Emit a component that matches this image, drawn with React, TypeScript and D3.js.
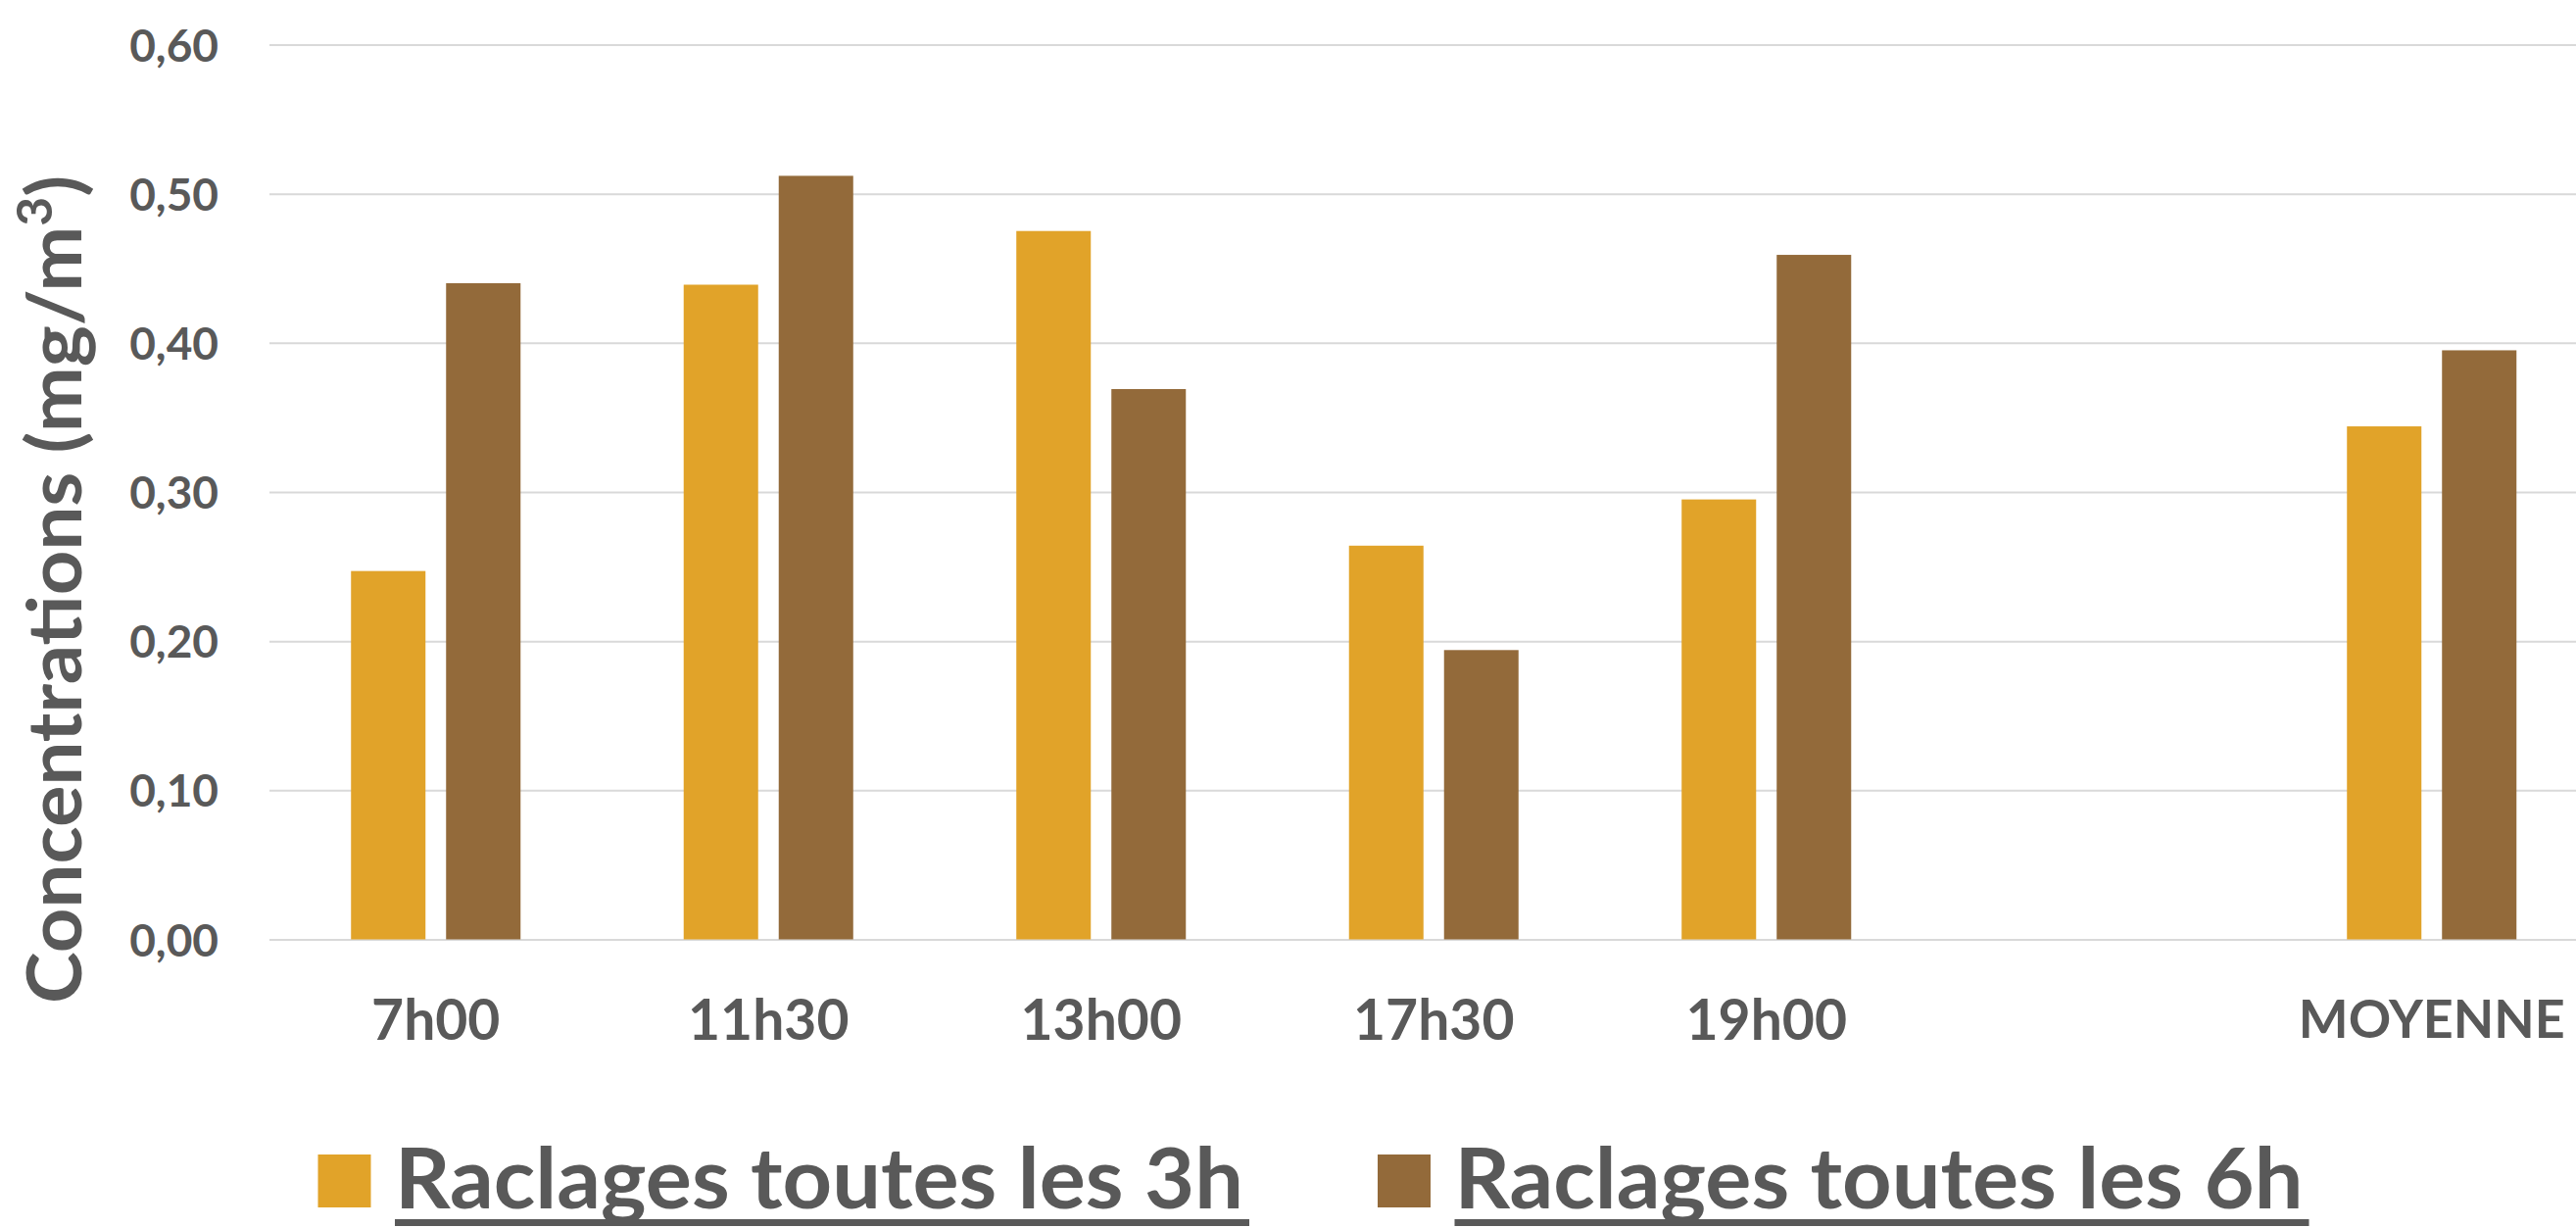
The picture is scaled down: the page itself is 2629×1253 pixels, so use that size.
import React, { useEffect, useRef } from "react";
import { select, scaleBand, scaleLinear, axisLeft, axisBottom } from "d3";

// chart data
const categories = ["7h00", "11h30", "13h00", "17h30", "19h00", "", "MOYENNE"];
const seriesNames = ["Raclages toutes les 3h", "Raclages toutes les 6h"];
const raclages3h = [0.247, 0.439, 0.475, 0.264, 0.295, null, 0.344];
const raclages6h = [0.44, 0.512, 0.369, 0.194, 0.459, null, 0.395];
const yTicks = [0, 0.1, 0.2, 0.3, 0.4, 0.5, 0.6];
const yTickLabels = ["0,00", "0,10", "0,20", "0,30", "0,40", "0,50", "0,60"];
const yTitle = "Concentrations (mg/m";

const width = 2629;
const height = 1253;
const plotLeft = 275;
const plotTop = 45.5;
const plotBottom = 958.5;
const step = 339.5;
const textColor = "#595959";
const gridColor = "#d9d9d9";
const colors = ["#e1a329", "#936a3a"];
const font = "Lato, 'Open Sans', sans-serif";

function App() {
  const svgRef = useRef(null);

  useEffect(() => {
    const svg = select(svgRef.current);
    svg.selectAll("*").remove();

    const xScale = scaleBand()
      .domain(categories)
      .range([plotLeft, plotLeft + step * categories.length])
      .padding(0);

    const xInner = scaleBand()
      .domain(seriesNames)
      .range([0, xScale.bandwidth()])
      .paddingInner(0.2165)
      .paddingOuter(0.858);

    const yScale = scaleLinear().domain([0, 0.6]).range([plotBottom, plotTop]);

    // y axis with gridlines
    const yAxis = axisLeft(yScale)
      .tickValues(yTicks)
      .tickFormat((d, i) => yTickLabels[i])
      .tickSize(-(width - plotLeft))
      .tickPadding(52);

    const gy = svg.append("g")
      .attr("transform", `translate(${plotLeft},0)`)
      .call(yAxis);
    gy.select(".domain").remove();
    gy.selectAll(".tick line")
      .attr("stroke", gridColor)
      .attr("stroke-width", 2);
    gy.selectAll(".tick text")
      .attr("fill", textColor)
      .attr("font-family", font)
      .attr("font-weight", 700)
      .attr("font-size", 46)
      .attr("dy", "0.36em");

    // bars
    const seriesValues = [raclages3h, raclages6h];
    seriesNames.forEach((name, si) => {
      svg.append("g")
        .attr("fill", colors[si])
        .selectAll("rect")
        .data(categories.map((c, i) => ({ c, v: seriesValues[si][i] })).filter(d => d.v != null))
        .join("rect")
        .attr("x", d => xScale(d.c) + xInner(name))
        .attr("width", xInner.bandwidth())
        .attr("y", d => yScale(d.v))
        .attr("height", d => yScale(0) - yScale(d.v));
    });

    // x axis labels
    const xAxis = axisBottom(xScale).tickSize(0).tickPadding(0);
    const gx = svg.append("g")
      .attr("transform", `translate(0,${plotBottom})`)
      .call(xAxis);
    gx.select(".domain").remove();
    gx.selectAll(".tick text")
      .attr("fill", textColor)
      .attr("font-family", font)
      .attr("font-weight", 700)
      .attr("font-size", d => (d === "MOYENNE" ? 54 : 57))
      .attr("y", d => (d === "MOYENNE" ? 100.8 : 102.5))
      .attr("dy", 0)
      .attr("textLength", d => (d === "MOYENNE" ? 272 : null))
      .attr("lengthAdjust", "spacingAndGlyphs");

    // y title
    const title = svg.append("text")
      .attr("transform", `translate(83,601.5) rotate(-90)`)
      .attr("text-anchor", "middle")
      .attr("fill", textColor)
      .attr("font-family", font)
      .attr("font-weight", 700)
      .attr("font-size", 77)
      .attr("textLength", 845)
      .attr("lengthAdjust", "spacingAndGlyphs");
    title.append("tspan").text(yTitle);
    title.append("tspan").attr("font-size", 50).attr("dy", -30).text("3");
    title.append("tspan").attr("dy", 30).text(")");

    // legend
    const legendX = [324.5, 1406];
    const legend = svg.append("g");
    seriesNames.forEach((name, i) => {
      const x0 = legendX[i];
      legend.append("rect")
        .attr("x", x0)
        .attr("y", 1178)
        .attr("width", 54)
        .attr("height", 54)
        .attr("fill", colors[i]);
      legend.append("text")
        .attr("x", x0 + 78.5)
        .attr("y", 1233)
        .attr("fill", textColor)
        .attr("font-family", font)
        .attr("font-weight", 700)
        .attr("font-size", 86)
        .attr("textLength", 866)
        .attr("lengthAdjust", "spacingAndGlyphs")
        .text(name);
      legend.append("rect")
        .attr("x", x0 + 78.5)
        .attr("y", 1244)
        .attr("width", 872)
        .attr("height", 7)
        .attr("fill", textColor);
    });
  }, []);

  return (
    <svg
      ref={svgRef}
      width={width}
      height={height}
      style={{ position: "absolute", left: 0, top: 0, background: "#fff", display: "block" }}
    />
  );
}

export default App;
